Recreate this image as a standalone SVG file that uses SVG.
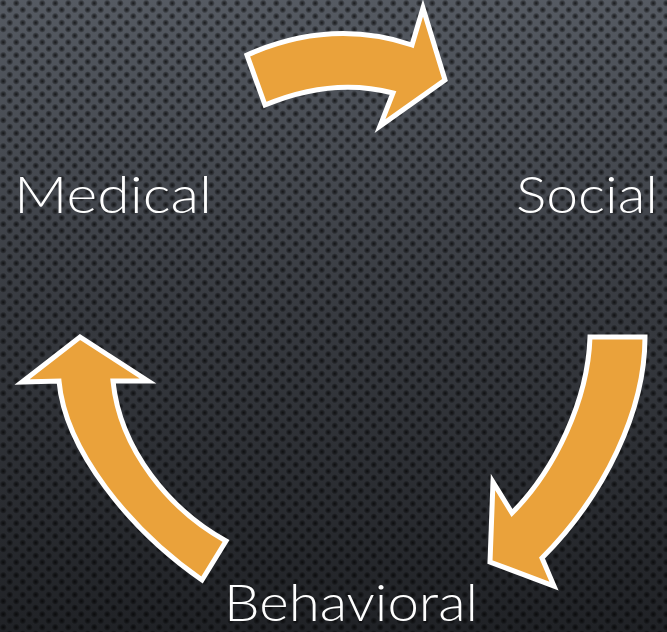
<svg xmlns="http://www.w3.org/2000/svg" width="667" height="632" viewBox="0 0 667 632">
  <defs>
    <linearGradient id="bg" x1="0" y1="0" x2="0" y2="1">
      <stop offset="0" stop-color="#555a62"/>
      <stop offset="0.5" stop-color="#373a40"/>
      <stop offset="1" stop-color="#202226"/>
    </linearGradient>
    <radialGradient id="dot">
      <stop offset="0" stop-color="#000" stop-opacity="0.7"/>
      <stop offset="0.6" stop-color="#000" stop-opacity="0.35"/>
      <stop offset="1" stop-color="#000" stop-opacity="0"/>
    </radialGradient>
    <pattern id="perf" width="13" height="13" patternUnits="userSpaceOnUse">
      <circle cx="3.25" cy="3.25" r="3.6" fill="url(#dot)"/>
      <circle cx="9.75" cy="9.75" r="3.6" fill="url(#dot)"/>
    </pattern>
    <style>
      .arrow { fill: #eaa23b; stroke: #ffffff; stroke-width: 5; stroke-linejoin: miter; stroke-miterlimit: 10; }
      .label { fill: #ffffff; font-family: "Lato", "Noto Sans", "DejaVu Sans", sans-serif; font-weight: 300; font-size: 51px; }
    </style>
  </defs>

  <!-- perforated dark backdrop -->
  <rect width="667" height="632" fill="url(#bg)"/>
  <rect width="667" height="632" fill="url(#perf)"/>

  <g id="connectors">
    <!-- Medical to Social -->
    <path id="arrow-top" class="arrow" d="M 247,55 Q 331,18 412,45 L 423,8 L 445,80 L 380,126 L 393,93 Q 332,77 265,105 Z"/>
    <!-- Social to Behavioral -->
    <path id="arrow-right" class="arrow" d="M 590,337 L 645,337 C 645,410 605,495 542,558 L 554,586 L 490,562 L 493,482 L 512,513 C 555,470 588,400 590,337 Z"/>
    <!-- Behavioral to Medical -->
    <path id="arrow-left" class="arrow" d="M 202,580 C 130,530 65,450 59,381 L 22,382 L 80,337 L 148,381 L 113,381 C 120,450 170,510 226,541 Z"/>
  </g>

  <g id="node-medical">
    <text class="label" x="14" y="213" textLength="198" lengthAdjust="spacingAndGlyphs">Medical</text>
  </g>
  <g id="node-social">
    <text class="label" x="516" y="213" textLength="142" lengthAdjust="spacingAndGlyphs">Social</text>
  </g>
  <g id="node-behavioral">
    <text class="label" x="224" y="621" textLength="254" lengthAdjust="spacingAndGlyphs">Behavioral</text>
  </g>
</svg>
